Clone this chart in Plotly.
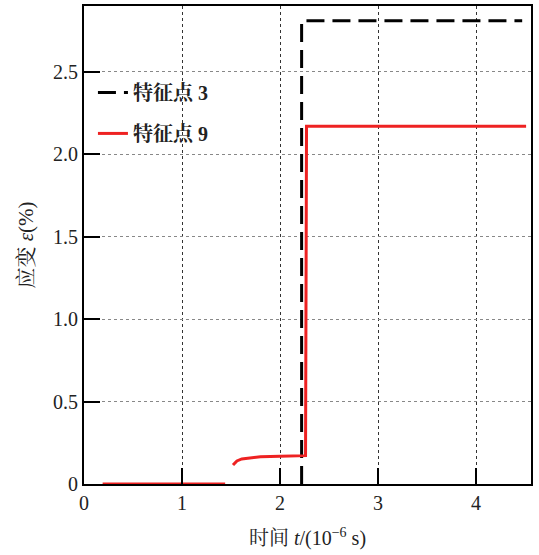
import plotly.graph_objects as go

# Data (time in 1e-6 s, strain in %)
t_p3 = [2.22, 2.22, 4.47]
e_p3 = [0.0, 2.81, 2.81]

t_p9 = [0.19, 1.44, None, 1.52, 1.56, 1.61, 1.72, 1.80, 2.0, 2.26, 2.27, 4.51]
e_p9 = [0.0, 0.0, None, 0.115, 0.14, 0.152, 0.158, 0.165, 0.168, 0.172, 2.17, 2.17]

x_ticks = [0, 1, 2, 3, 4]
x_ticktext = ["0", "1", "2", "3", "4"]
y_ticks = [0, 0.5, 1.0, 1.5, 2.0, 2.5]
y_ticktext = ["0", "0.5", "1.0", "1.5", "2.0", "2.5"]

FONT = "Liberation Serif, Noto Serif CJK SC, Noto Sans CJK SC, serif"

fig = go.Figure()
fig.add_trace(go.Scatter(
    x=t_p3, y=e_p3, mode="lines", name="特征点 3", legendgroup="a",
    line=dict(color="black", width=3, dash="18px,8px"),
))
fig.add_trace(go.Scatter(
    x=t_p9, y=e_p9, mode="lines", name="特征点 9", legendgroup="b",
    line=dict(color="#ee2222", width=3), connectgaps=False,
))

axis_common = dict(
    showline=True, linecolor="black", linewidth=2, mirror=True,
    ticks="inside", ticklen=16, tickwidth=2, tickcolor="black",
    showgrid=True, gridwidth=1, griddash="dot",
    zeroline=False, automargin=False,
    tickfont=dict(family=FONT, size=20, color="#222"),
)

fig.update_xaxes(
    range=[0, 4.56], tickvals=x_ticks, ticktext=x_ticktext,
    gridcolor="#333",
    title=dict(text="时间 <i>t</i>/(10<sup>−6</sup> s)", font=dict(family=FONT, size=20, color="#222"), standoff=18),
    **axis_common,
)
fig.update_yaxes(
    range=[0, 2.9], tickvals=y_ticks, ticktext=y_ticktext,
    gridcolor="#888",
    title=dict(text="应变 <i>ε</i>(%)", font=dict(family=FONT, size=21, color="#222"), standoff=14),
    **axis_common,
)

fig.update_layout(
    width=539, height=555,
    margin=dict(l=84, r=8, t=6, b=71),
    paper_bgcolor="white", plot_bgcolor="white",
    showlegend=True,
    legend=dict(
        x=0.02, y=0.86, xanchor="left", yanchor="top",
        bgcolor="rgba(255,255,255,0)", borderwidth=0,
        font=dict(family=FONT, size=20, color="#222", weight="bold"),
        tracegroupgap=12, itemwidth=30,
    ),
)

fig.write_html("out.html", config={"displayModeBar": False},
               post_script="document.body.style.margin='0';")
